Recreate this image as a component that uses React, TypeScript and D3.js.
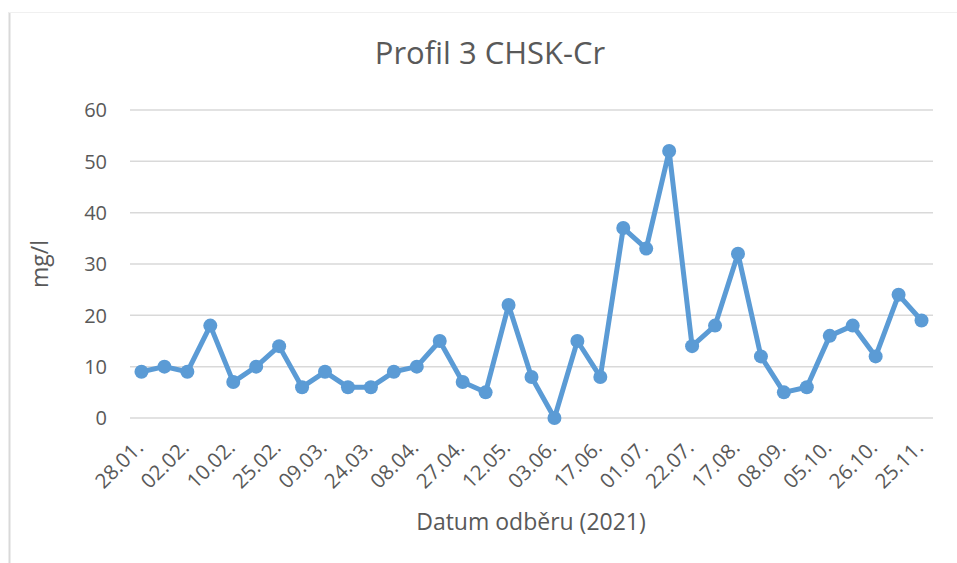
import React from "react";
import * as d3 from "d3";

// sampling dates: Excel only shows every second label
const tickLabels = [
  "28.01.", "02.02.", "10.02.", "25.02.", "09.03.", "24.03.", "08.04.", "27.04.", "12.05.",
  "03.06.", "17.06.", "01.07.", "22.07.", "17.08.", "08.09.", "05.10.", "26.10.", "25.11.",
];

// CHSK-Cr values (mg/l), one per sample
const values = [
  9, 10, 9, 18, 7, 10, 14, 6, 9, 6, 6, 9, 10, 15, 7, 5, 22, 8, 0, 15, 8, 37, 33, 52, 14, 18, 32, 12,
  5, 6, 16, 18, 12, 24, 19,
];

const yTicks = [0, 10, 20, 30, 40, 50, 60];

const W = 957;
const H = 563;
const font = "'Open Sans', 'DejaVu Sans', sans-serif";
const textColor = "#595959";
const lineColor = "#5b9bd5";

export default function App() {
  const plot = { left: 130, right: 933, top: 110, bottom: 418 };

  const x = d3
    .scaleBand<number>()
    .domain(values.map((_, i) => i))
    .range([plot.left, plot.right]);

  const y = d3.scaleLinear().domain([0, 60]).range([plot.bottom, plot.top]);

  const cx = (i: number) => (x(i) ?? 0) + x.bandwidth() / 2;

  const line = d3
    .line<number>()
    .x((_, i) => cx(i))
    .y((d) => y(d));

  return (
    <svg
      width={W}
      height={H}
      style={{ position: "absolute", left: 0, top: 0, background: "#fff" }}
    >
      {/* chart frame (only left and top edges visible) */}
      <line x1={9.5} x2={9.5} y1={12} y2={H} stroke="#d9d9d9" strokeWidth={2} />
      <line x1={9} x2={W} y1={12.5} y2={12.5} stroke="#f0f0f0" strokeWidth={1} />

      <text
        x={490}
        y={64}
        textAnchor="middle"
        fontFamily={font}
        fontSize={31}
        fill={textColor}
      >
        Profil 3 CHSK-Cr
      </text>

      {/* gridlines + y labels */}
      {yTicks.map((t) => (
        <g key={t}>
          <line
            x1={plot.left}
            x2={plot.right}
            y1={y(t)}
            y2={y(t)}
            stroke="#d9d9d9"
            strokeWidth={1.5}
          />
          <text
            x={107}
            y={y(t)}
            dy="0.36em"
            textAnchor="end"
            fontFamily={font}
            fontSize={20}
            fill={textColor}
          >
            {t}
          </text>
        </g>
      ))}

      {/* x tick labels, every second sample */}
      {tickLabels.map((lab, k) => {
        const px = cx(k * 2) + 3;
        const py = 449;
        return (
          <text
            key={lab}
            x={px}
            y={py}
            textAnchor="end"
            transform={`rotate(-45,${px},${py})`}
            fontFamily={font}
            fontSize={20.5}
            fill={textColor}
          >
            {lab}
          </text>
        );
      })}

      <path
        d={line(values) ?? ""}
        fill="none"
        stroke={lineColor}
        strokeWidth={5}
        strokeLinejoin="round"
        strokeLinecap="round"
      />
      {values.map((v, i) => (
        <circle key={i} cx={cx(i)} cy={y(v)} r={7} fill={lineColor} />
      ))}

      <text
        x={531}
        y={530}
        textAnchor="middle"
        fontFamily={font}
        fontSize={23}
        fill={textColor}
      >
        Datum odběru (2021)
      </text>
      <text
        transform={`translate(48,264) rotate(-90)`}
        textAnchor="middle"
        fontFamily={font}
        fontSize={23}
        fill={textColor}
      >
        mg/l
      </text>
    </svg>
  );
}
